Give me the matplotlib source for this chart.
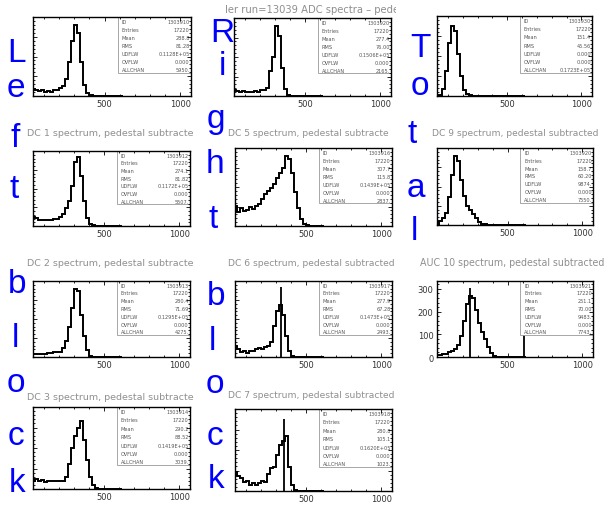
import matplotlib
matplotlib.use('Agg')
import matplotlib.pyplot as plt
import numpy as np
from matplotlib.transforms import Bbox
from matplotlib.patches import Rectangle
from matplotlib.ticker import FixedLocator, MultipleLocator, AutoMinorLocator

W, H = 608, 506

# ---- data (channel bins of 20 starting at 20) ----
edges = np.arange(20, 640, 20)

counts_left1 = [10, 8, 7, 8, 6, 7, 6, 8, 9, 11, 14, 24, 48, 78, 100, 90, 48, 15, 4, 1,
                0, 0, 0, 0, 0, 0, 0, 0, 0, 0]
counts_right1 = [9, 7, 6, 7, 6, 5, 6, 7, 6, 8, 9, 12, 35, 55, 100, 85, 40, 10, 1, 0,
                 0, 0, 0, 0, 0, 0, 0, 0, 0, 0]
counts_total1 = [0, 2, 10, 35, 75, 100, 92, 60, 28, 9, 3, 1, 0, 0, 0, 0, 0, 0, 0, 0,
                 0, 0, 0, 0, 0, 0, 0, 0, 0, 0]
counts_dc1 = [13, 11, 9, 8, 9, 8, 9, 10, 10, 13, 18, 26, 36, 58, 92, 100, 72, 36, 12, 3,
              1, 0, 0, 0, 0, 0, 0, 0, 0, 0]
counts_dc5 = [28, 20, 25, 21, 23, 27, 24, 29, 32, 38, 45, 50, 54, 60, 68, 76, 82, 100, 96, 75,
              48, 26, 10, 3, 1, 0, 0, 0, 0, 0]
counts_dc9 = [0, 6, 10, 18, 40, 72, 100, 92, 65, 42, 28, 22, 16, 10, 5, 2, 1, 0, 0, 0,
              0, 0, 0, 0, 0, 0, 0, 0, 0, 0]
counts_dc2 = [5, 5, 4, 5, 5, 6, 6, 7, 7, 8, 13, 24, 44, 72, 100, 96, 62, 30, 10, 2,
              0, 0, 0, 0, 0, 0, 0, 0, 0, 0]
counts_dc6 = [16, 11, 7, 9, 6, 8, 9, 11, 13, 11, 15, 16, 22, 44, 66, 74, 60, 30, 9, 2,
              0, 0, 0, 0, 0, 0, 0, 0, 0, 0]
counts_auc10 = [8, 10, 12, 15, 20, 26, 36, 52, 92, 160, 235, 268, 262, 205, 150, 108, 78, 45, 16, 5,
                2, 0, 0, 0, 0, 0, 0, 0, 0, 0]
counts_dc3 = [12, 14, 11, 13, 10, 12, 11, 12, 11, 12, 12, 18, 36, 60, 78, 90, 100, 72, 42, 18,
              6, 1, 0, 0, 0, 0, 0, 0, 0, 0]
counts_dc7 = [26, 21, 18, 12, 14, 9, 11, 9, 11, 14, 12, 23, 32, 34, 50, 64, 70, 76, 34, 9,
              1, 0, 0, 0, 0, 0, 0, 0, 0, 0]

# single-channel spikes (channel, height)
spikes_dc6 = [(332, 100)]
spikes_auc10 = [(250, 305), (610, 330)]
spikes_dc7 = [(352, 100)]

stat_labels = ['ID', 'Entries', 'Mean', 'RMS', 'UDFLW', 'OVFLW', 'ALLCHAN']
stats_left1 = ['1303910', '17220', '288.8', '81.28', '0.1128E+05', '0.000', '5950.']
stats_right1 = ['1303920', '17220', '277.4', '76.00', '0.1506E+05', '0.000', '2165.']
stats_total1 = ['1303930', '17220', '151.4', '45.56', '0.000', '0.000', '0.1723E+05']
stats_dc1 = ['1303912', '17220', '274.1', '81.82', '0.1172E+05', '0.000', '5507.']
stats_dc5 = ['1303916', '17220', '307.7', '115.8', '0.1439E+05', '0.000', '2837.']
stats_dc9 = ['1303920', '17220', '158.7', '60.20', '9874.', '0.000', '7550.']
stats_dc2 = ['1303913', '17220', '280.4', '71.69', '0.1295E+05', '0.000', '4275.']
stats_dc6 = ['1303917', '17220', '277.9', '67.28', '0.1473E+05', '0.000', '2493.']
stats_auc10 = ['1303921', '17220', '251.1', '70.00', '9483.', '0.000', '7743.']
stats_dc3 = ['1303914', '17220', '290.2', '88.52', '0.1419E+05', '0.000', '3039.']
stats_dc7 = ['1303918', '17220', '280.8', '105.1', '0.1620E+05', '0.000', '1023.']

auc_yticks = [0, 100, 200, 300]
x_ticks = [500, 1000]

# ---- layout: (counts, stats, spikes, frame px [l, t, r, b], ytop, show y labels) ----
panels = [
    (counts_left1, stats_left1, [], (33, 18, 191, 97), 112, False),
    (counts_right1, stats_right1, [], (234, 19, 391, 97), 111, False),
    (counts_total1, stats_total1, [], (437, 17, 592, 97), 114, False),
    (counts_dc1, stats_dc1, [], (33, 152, 190, 227), 108, False),
    (counts_dc5, stats_dc5, [], (235, 149, 392, 227), 111, False),
    (counts_dc9, stats_dc9, [], (437, 149, 593, 226), 111, False),
    (counts_dc2, stats_dc2, [], (33, 282, 190, 358), 111, False),
    (counts_dc6, stats_dc6, spikes_dc6, (235, 282, 392, 358), 109, False),
    (counts_auc10, stats_auc10, spikes_auc10, (437, 282, 593, 358), 335, True),
    (counts_dc3, stats_dc3, [], (33, 408, 190, 490), 120, False),
    (counts_dc7, stats_dc7, spikes_dc7, (235, 410, 392, 492), 114, False),
]

# titles: text, x, y (px), font size, right clip (px)
titles = [
    ('ler run=13039 ADC spectra \u2013 pede', 225, 10, 7.2, 396),
    ('DC 1 spectrum, pedestal subtracte', 27, 133, 6.8, 201),
    ('DC 5 spectrum, pedestal subtracte', 228, 133, 6.6, 395),
    ('DC 9 spectrum, pedestal subtracted', 432, 133, 6.6, 608),
    ('DC 2 spectrum, pedestal subtracte', 27, 263, 6.8, 201),
    ('DC 6 spectrum, pedestal subtracted', 228, 263, 6.6, 410),
    ('AUC 10 spectrum, pedestal subtracted', 420, 263, 6.85, 608),
    ('DC 3 spectrum, pedestal subtracte', 27, 397, 6.8, 201),
    ('DC 7 spectrum, pedestal subtracted', 228, 396, 6.6, 410),
]

# big blue letters: char, x center, baseline y (px)
letters = [
    ('L', 16, 62), ('e', 16, 97), ('f', 15, 147), ('t', 14, 198),
    ('b', 17, 293), ('l', 15, 347), ('o', 16, 392), ('c', 16, 445), ('k', 17, 492),
    ('R', 222, 42), ('i', 222, 75), ('g', 216, 128), ('h', 215, 173), ('t', 213, 228),
    ('b', 216, 305), ('l', 212, 350), ('o', 215, 393), ('c', 215, 445), ('k', 216, 488),
    ('T', 420, 57), ('o', 420, 95), ('t', 412, 143), ('a', 416, 197), ('l', 414, 240),
]

fig = plt.figure(figsize=(W / 100, H / 100), dpi=100)
fig.patch.set_facecolor('white')


def frac(l, t, r, b):
    return [l / W, 1 - b / H, (r - l) / W, (b - t) / H]


for counts, stats, spikes, box, ytop, ylab in panels:
    ax = fig.add_axes(frac(*box))
    ax.stairs(counts, edges, color='black', lw=1.4, zorder=2)
    for ch, h in spikes:
        ax.vlines(ch, 0, h, color='black', lw=1.3, zorder=2)
    ax.set_xlim(26, 1072)
    ax.set_ylim(0, ytop)
    ax.xaxis.set_major_locator(FixedLocator(x_ticks))
    ax.xaxis.set_minor_locator(MultipleLocator(100))
    if ylab:
        ax.yaxis.set_major_locator(FixedLocator(auc_yticks))
        ax.yaxis.set_minor_locator(MultipleLocator(20))
    else:
        ax.yaxis.set_major_locator(MultipleLocator(ytop / 4))
        ax.yaxis.set_minor_locator(AutoMinorLocator(5))
    ax.tick_params(which='both', direction='in', top=True, right=True,
                   width=0.6, color='black', labelsize=6, labelcolor='#333333', pad=2.5)
    ax.tick_params(which='major', length=3)
    ax.tick_params(which='minor', length=1.5)
    ax.tick_params(axis='y', labelleft=ylab)
    for s in ax.spines.values():
        s.set_linewidth(1.0)
        s.set_zorder(5)
    ax.xaxis.set_zorder(5)
    ax.yaxis.set_zorder(5)

    # statistics box
    ax.add_patch(Rectangle((0.535, 0.29), 0.465, 0.71, transform=ax.transAxes,
                           facecolor='white', edgecolor='#999999', lw=0.6, zorder=3))
    for i, (lab, val) in enumerate(zip(stat_labels, stats)):
        y = 0.945 - i * 0.1025
        ax.text(0.56, y, lab, transform=ax.transAxes, fontsize=3.6, color='#555555',
                ha='left', va='center', zorder=4)
        ax.text(0.992, y, val, transform=ax.transAxes, fontsize=3.6, color='#555555',
                ha='right', va='center', zorder=4, clip_on=True)

for text, x, y, size, c1 in titles:
    t = fig.text(x / W, 1 - y / H, text, fontsize=size, color='#8f8f8f',
                 ha='left', va='center', family='DejaVu Sans')
    t.set_clip_box(Bbox.from_extents(0, 0, c1, H))
    t.set_clip_on(True)

for ch, x, y in letters:
    fig.text(x / W, 1 - y / H, ch, fontsize=24, color='#0000ff',
             ha='center', va='baseline', family='Liberation Sans')

fig.savefig('out.png', dpi=100)
